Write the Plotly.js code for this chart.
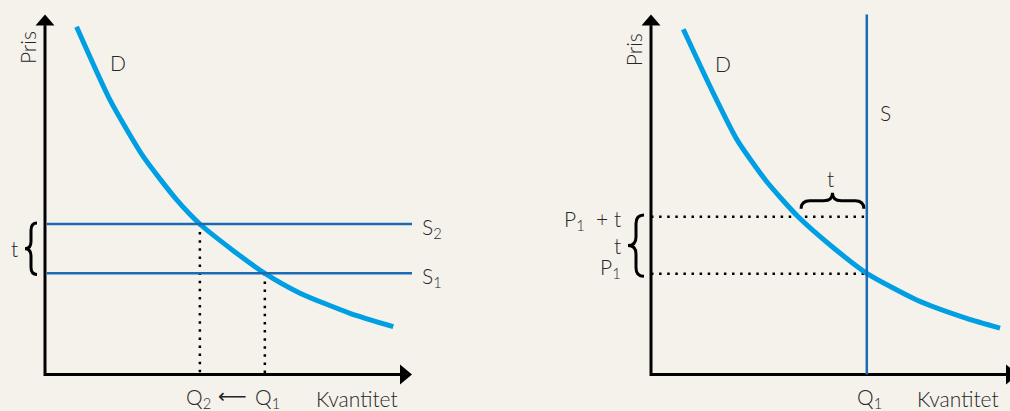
<!DOCTYPE html>
<html>
<head>
<meta charset="utf-8">
<script src="https://cdn.plot.ly/plotly-3.0.1.min.js"></script>
<style>
  html, body { margin: 0; padding: 0; background: #f5f2ec; }
  #chart { width: 1010px; height: 411px; }
</style>
</head>
<body>
<div id="chart"></div>
<script>
// ---------- data (units: 0..10 on each axis) ----------
// Left panel: tax shifts a perfectly elastic supply curve up
const leftDemandQ = [0.86, 1.77, 2.68, 3.59, 4.22, 5.13, 5.99, 6.95, 8.31, 9.49];
const leftDemandP = [9.66, 7.63, 6.05, 4.85, 4.18, 3.44, 2.81, 2.26, 1.70, 1.33];
const leftS1 = 2.81;           // price level of S1
const leftS2 = 4.18;           // price level of S2 (= S1 + t)
const leftQ1 = 5.99;           // quantity where D meets S1
const leftQ2 = 4.22;           // quantity where D meets S2

// Right panel: perfectly inelastic supply
const rightDemandQ = [0.88, 1.61, 2.35, 3.15, 4.01, 4.97, 5.88, 7.24, 8.60, 9.51];
const rightDemandP = [9.59, 8.00, 6.51, 5.36, 4.38, 3.52, 2.81, 2.07, 1.56, 1.29];
const rightQ1 = 5.88;          // vertical supply S
const rightP1 = 2.80;          // price P1
const rightP1t = 4.38;         // price P1 + t
const rightQatP1t = 4.01;      // where D meets P1 + t

const axisLen = 10;

// labels
const leftLabels  = { demand: 'D', s1: 'S<sub>1</sub>', s2: 'S<sub>2</sub>', price: 'Pris', qty: 'Kvantitet',
                      q1: 'Q<sub>1</sub>', q2: 'Q<sub>2</sub>', arrow: '⟵', tax: 't' };
const rightLabels = { demand: 'D', s: 'S', price: 'Pris', qty: 'Kvantitet', q1: 'Q<sub>1</sub>',
                      p1t: 'P<sub>1</sub>  + t', tax: 't', p1: 'P<sub>1</sub>', taxTop: 't' };

// ---------- styles ----------
const BG = '#f5f2ec';
const DEMAND_COLOR = '#009fe3';
const SUPPLY_COLOR = '#1a6bb3';
const INK = '#000000';
const TEXT = '#262626';
const FONT = 'Lato, "Open Sans", sans-serif';
const AX_END = axisLen - 0.3;

function line(xa, ya, xs, ys, color, width, dash, spline) {
  return {
    type: 'scatter', mode: 'lines', x: xs, y: ys, xaxis: xa, yaxis: ya,
    line: { color: color, width: width, dash: dash || 'solid', shape: spline ? 'spline' : 'linear', smoothing: 0.6 },
    hoverinfo: 'skip', showlegend: false
  };
}
const DOT = '2.5px,5.6px';

const traces = [
  // left panel
  line('x', 'y', [0, 0, AX_END], [AX_END, 0, 0], INK, 3),
  line('x', 'y', [leftQ2, leftQ2], [leftS2, 0], INK, 2.5, DOT),
  line('x', 'y', [leftQ1, leftQ1], [leftS1, 0], INK, 2.5, DOT),
  line('x', 'y', leftDemandQ, leftDemandP, DEMAND_COLOR, 5, null, true),
  line('x', 'y', [0.05, axisLen], [leftS2, leftS2], SUPPLY_COLOR, 2.5),
  line('x', 'y', [0.05, axisLen], [leftS1, leftS1], SUPPLY_COLOR, 2.5),
  // right panel
  line('x2', 'y2', [0, 0, axisLen], [AX_END, 0, 0], INK, 3),
  line('x2', 'y2', [0, rightQ1], [rightP1t, rightP1t], INK, 2.5, DOT),
  line('x2', 'y2', [0, rightQ1], [rightP1, rightP1], INK, 2.5, DOT),
  line('x2', 'y2', rightDemandQ, rightDemandP, DEMAND_COLOR, 5, null, true),
  line('x2', 'y2', [rightQ1, rightQ1], [0, axisLen], SUPPLY_COLOR, 2.5)
];

// ---------- decorations: arrowheads and braces ----------
function upArrow(xr, yr) {
  return { type: 'path', xref: xr, yref: yr, xsizemode: 'pixel', ysizemode: 'pixel',
           xanchor: 0, yanchor: axisLen, path: 'M -9.5,-11 L 9.5,-11 L 0,0 Z',
           fillcolor: INK, line: { width: 0 } };
}
function rightArrow(xr, yr) {
  return { type: 'path', xref: xr, yref: yr, xsizemode: 'pixel', ysizemode: 'pixel',
           xanchor: axisLen, yanchor: 0, path: 'M -12,10 L -12,-10 L 0,0 Z',
           fillcolor: INK, line: { width: 0 } };
}
// vertical brace, tip pointing left; x in pixels relative to the price axis
function vBrace(xr, yr, yTop, yBot, endPx, tipPx) {
  const xm = (endPx + tipPx) / 2, ym = (yTop + yBot) / 2, d = (yTop - yBot) * 0.14;
  const p = `M ${endPx},${yTop} Q ${xm},${yTop} ${xm},${yTop - d} L ${xm},${ym + d} ` +
            `Q ${xm},${ym} ${tipPx},${ym} Q ${xm},${ym} ${xm},${ym - d} L ${xm},${yBot + d} ` +
            `Q ${xm},${yBot} ${endPx},${yBot}`;
  return { type: 'path', xref: xr, yref: yr, xsizemode: 'pixel', xanchor: 0,
           path: p, line: { color: INK, width: 3 }, fillcolor: 'rgba(0,0,0,0)' };
}
// horizontal brace, tip pointing up; y in pixels above the given price level
function hBrace(xr, yr, yLevel, xL, xR, endPx, tipPx) {
  const ym = (endPx + tipPx) / 2, xc = (xL + xR) / 2, d = (xR - xL) * 0.14;
  const p = `M ${xL},${endPx} Q ${xL},${ym} ${xL + d},${ym} L ${xc - d},${ym} ` +
            `Q ${xc},${ym} ${xc},${tipPx} Q ${xc},${ym} ${xc + d},${ym} L ${xR - d},${ym} ` +
            `Q ${xR},${ym} ${xR},${endPx}`;
  return { type: 'path', xref: xr, yref: yr, ysizemode: 'pixel', yanchor: yLevel,
           path: p, line: { color: INK, width: 3 }, fillcolor: 'rgba(0,0,0,0)' };
}

const shapes = [
  upArrow('x', 'y'), rightArrow('x', 'y'),
  upArrow('x2', 'y2'), rightArrow('x2', 'y2'),
  vBrace('x', 'y', leftS2 + 0.03, leftS1 - 0.03, -8, -20),
  vBrace('x2', 'y2', rightP1t + 0.05, rightP1 - 0.07, -7, -23),
  hBrace('x2', 'y2', rightP1t, rightQatP1t + 0.08, rightQ1 - 0.08, 8, 24)
];

// ---------- text ----------
function txt(xr, yr, x, y, text, opts) {
  return Object.assign({ xref: xr, yref: yr, x: x, y: y, text: text, showarrow: false,
    xanchor: 'center', yanchor: 'middle', font: { family: FONT, size: 21, color: TEXT, weight: 300 } }, opts || {});
}
const annotations = [
  // left
  txt('x', 'y', 1.99, 8.68, leftLabels.demand),
  txt('x', 'y', 10.22, leftS2 - 0.1, leftLabels.s2, { xanchor: 'left' }),
  txt('x', 'y', 10.22, leftS1 - 0.1, leftLabels.s1, { xanchor: 'left' }),
  txt('x', 'y', -0.46, 9.07, leftLabels.price, { textangle: -90 }),
  txt('x', 'y', -0.84, 3.5, leftLabels.tax),
  txt('x', 'y', leftQ2 - 0.05, -0.66, leftLabels.q2),
  txt('x', 'y', 5.12, -0.6, leftLabels.arrow, { font: { family: 'DejaVu Sans', size: 20, color: TEXT } }),
  txt('x', 'y', leftQ1 + 0.08, -0.66, leftLabels.q1),
  txt('x', 'y', 8.5, -0.66, leftLabels.qty),
  // right
  txt('x2', 'y2', 1.96, 8.65, rightLabels.demand),
  txt('x2', 'y2', 6.38, 7.28, rightLabels.s),
  txt('x2', 'y2', -0.49, 9.01, rightLabels.price, { textangle: -90 }),
  txt('x2', 'y2', -0.76, 4.3, rightLabels.p1t, { xanchor: 'right' }),
  txt('x2', 'y2', -0.77, 3.58, rightLabels.tax, { xanchor: 'right' }),
  txt('x2', 'y2', -0.77, 2.95, rightLabels.p1, { xanchor: 'right' }),
  txt('x2', 'y2', 4.9, 5.44, rightLabels.taxTop),
  txt('x2', 'y2', rightQ1 + 0.08, -0.66, rightLabels.q1),
  txt('x2', 'y2', 8.37, -0.66, rightLabels.qty)
];

// ---------- axes (hidden; used only as scales) ----------
const PX_X = 36.7, PX_Y = 36, ORIGIN_Y = 374.5;
const yRange = [(ORIGIN_Y - 411) / PX_Y, ORIGIN_Y / PX_Y];
function hiddenAxis(extra) {
  return Object.assign({ visible: false, showgrid: false, zeroline: false, fixedrange: true }, extra);
}
const layout = {
  width: 1010, height: 411,
  margin: { l: 0, r: 0, t: 0, b: 0, pad: 0 },
  paper_bgcolor: BG, plot_bgcolor: BG,
  showlegend: false, hovermode: false,
  xaxis:  hiddenAxis({ domain: [0, 0.5], range: [-45 / PX_X, (505 - 45) / PX_X], anchor: 'y' }),
  yaxis:  hiddenAxis({ domain: [0, 1], range: yRange, anchor: 'x' }),
  xaxis2: hiddenAxis({ domain: [0.5, 1], range: [-(651 - 505) / PX_X, (1010 - 651) / PX_X], anchor: 'y2' }),
  yaxis2: hiddenAxis({ domain: [0, 1], range: yRange, anchor: 'x2' }),
  shapes: shapes,
  annotations: annotations
};

Plotly.newPlot('chart', traces, layout, { staticPlot: true, displayModeBar: false });
</script>
</body>
</html>
